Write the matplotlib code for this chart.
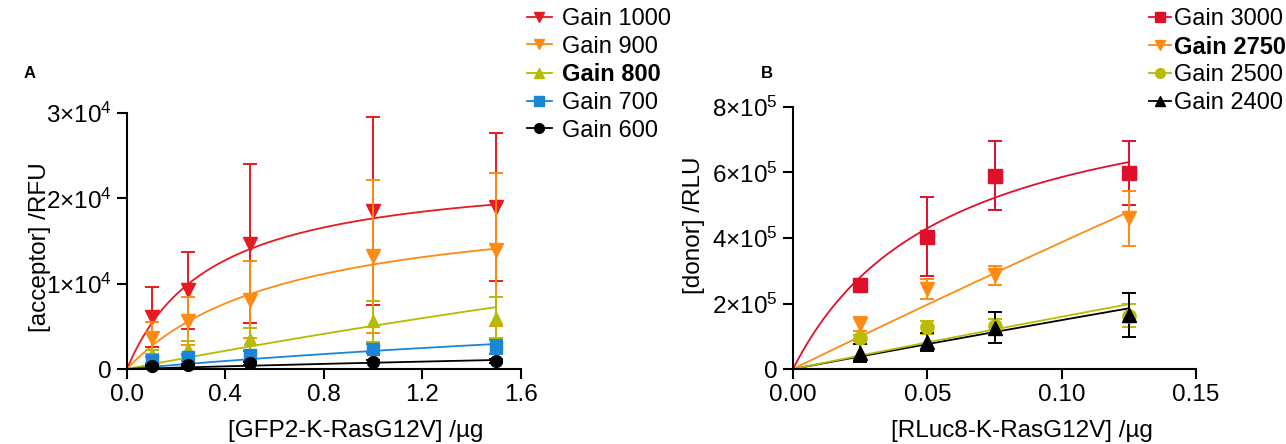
import matplotlib
matplotlib.use("Agg")
import numpy as np
import matplotlib.pyplot as plt
from matplotlib.lines import Line2D
from matplotlib.ticker import FixedLocator, FuncFormatter

plt.rcParams['font.family'] = ['Liberation Sans', 'DejaVu Sans']
plt.rcParams['mathtext.fontset'] = 'custom'
plt.rcParams['mathtext.rm'] = 'Liberation Sans'
plt.rcParams['mathtext.it'] = 'Liberation Sans:italic'
plt.rcParams['mathtext.bf'] = 'Liberation Sans:bold'

# ---- Panel A: acceptor fluorescence vs GFP2-K-RasG12V ----
a_x = [0.1, 0.25, 0.5, 1.0, 1.5]
a_labels = ['Gain 1000', 'Gain 900', 'Gain 800', 'Gain 700', 'Gain 600']
a_mean = [
    [6.1e3, 9.2e3, 14.7e3, 18.5e3, 19.0e3],
    [3.6e3, 5.6e3, 8.1e3, 13.2e3, 14.0e3],
    [1.8e3, 2.4e3, 3.5e3, 5.6e3, 6.0e3],
    [1.05e3, 1.35e3, 1.6e3, 2.4e3, 2.55e3],
    [0.35e3, 0.47e3, 0.65e3, 0.85e3, 0.95e3],
]
a_err = [
    [3.5e3, 4.5e3, 9.3e3, 11.0e3, 8.7e3],
    [1.9e3, 2.8e3, 4.5e3, 9.0e3, 9.0e3],
    [0.4e3, 0.9e3, 1.3e3, 2.4e3, 2.4e3],
    [0.3e3, 0.4e3, 0.5e3, 0.5e3, 0.85e3],
    [0.1e3, 0.1e3, 0.15e3, 0.2e3, 0.2e3],
]
# one-site fit parameters (Bmax, Kd)
a_bmax = [23.7e3, 20.25e3, 55.6e3, 12.7e3, 8.1e3]
a_kd = [0.343, 0.654, 10.0, 5.0, 10.0]
a_colors = ['#e8191f', '#ff8a14', '#b4bb00', '#1a86d6', '#000000']
a_markers = ['v', 'v', '^', 's', 'o']
a_msize = [9.5, 9.5, 9, 8, 8.5]

# ---- Panel B: donor luminescence vs RLuc8-K-RasG12V ----
b_x = [0.025, 0.05, 0.075, 0.125]
b_labels = ['Gain 3000', 'Gain 2750', 'Gain 2500', 'Gain 2400']
b_mean = [
    [2.56e5, 4.04e5, 5.9e5, 5.98e5],
    [1.38e5, 2.44e5, 2.86e5, 4.6e5],
    [0.94e5, 1.27e5, 1.31e5, 1.62e5],
    [0.48e5, 0.83e5, 1.26e5, 1.66e5],
]
b_err = [
    [0.2e5, 1.2e5, 1.05e5, 0.97e5],
    [0.22e5, 0.31e5, 0.3e5, 0.85e5],
    [0.1e5, 0.21e5, 0.23e5, 0.35e5],
    [0.28e5, 0.27e5, 0.48e5, 0.67e5],
]
b_bmax = [9.2e5, 1.2e7, 4.95e6, 4.63e6]
b_kd = [0.057, 3.0, 3.0, 3.0]
b_colors = ['#e0102c', '#ff8a14', '#b9bd00', '#000000']
b_markers = ['s', 'v', 'o', '^']
b_msize = [10, 9.5, 9.5, 9.5]

FS = 17.5


def sci_label(v, exp):
    if v == 0:
        return '0'
    return r'$%d{\times}10^{%d}$' % (round(v / 10 ** exp), exp)


def draw_panel(ax, xs, means, errs, bmax, kd, colors, markers, msizes, xmax, order):
    for i in order:
        ax.errorbar(xs, means[i], yerr=errs[i], fmt=markers[i], color=colors[i],
                    ms=msizes[i], elinewidth=1.4, capsize=5, capthick=1.4,
                    clip_on=False, zorder=3 + i * 0.1)
        # fitted one-site binding curve
        xf = np.linspace(0, xs[-1], 200)
        ax.plot(xf, bmax[i] * xf / (kd[i] + xf), color=colors[i], lw=1.3, zorder=2)
    ax.set_xlim(0, xmax)
    for s in ['top', 'right']:
        ax.spines[s].set_visible(False)
    for s in ['left', 'bottom']:
        ax.spines[s].set_linewidth(1.5)
    ax.tick_params(direction='out', length=7, width=1.5, pad=4, labelsize=FS)


fig = plt.figure(figsize=(12.86, 4.44), dpi=100)

# panel A
axA = fig.add_axes([127 / 1286, 75 / 444, 393.5 / 1286, 256 / 444])
draw_panel(axA, a_x, a_mean, a_err, a_bmax, a_kd, a_colors, a_markers, a_msize, 1.6, range(5))
axA.set_ylim(0, 3e4)
axA.xaxis.set_major_locator(FixedLocator([0, 0.4, 0.8, 1.2, 1.6]))
axA.xaxis.set_major_formatter(FuncFormatter(lambda v, p: '%.1f' % v))
axA.yaxis.set_major_locator(FixedLocator([0, 1e4, 2e4, 3e4]))
axA.yaxis.set_major_formatter(FuncFormatter(lambda v, p: sci_label(v, 4)))
axA.set_xlabel('[GFP2-K-RasG12V] /µg', fontsize=FS, va='center')
axA.set_ylabel('[acceptor] /RFU', fontsize=FS, va='center')
axA.xaxis.set_label_coords(0.582, -0.242)
axA.yaxis.set_label_coords(-0.22, 0.477)

# panel B
axB = fig.add_axes([793 / 1286, 75 / 444, 403 / 1286, 262 / 444])
draw_panel(axB, b_x, b_mean, b_err, b_bmax, b_kd, b_colors, b_markers, b_msize, 0.15, [3, 2, 1, 0])
axB.set_ylim(0, 8e5)
axB.xaxis.set_major_locator(FixedLocator([0, 0.05, 0.10, 0.15]))
axB.xaxis.set_major_formatter(FuncFormatter(lambda v, p: '%.2f' % v))
axB.yaxis.set_major_locator(FixedLocator([0, 2e5, 4e5, 6e5, 8e5]))
axB.yaxis.set_major_formatter(FuncFormatter(lambda v, p: sci_label(v, 5)))
axB.set_xlabel('[RLuc8-K-RasG12V] /µg', fontsize=FS, va='center')
axB.set_ylabel('[donor] /RLU', fontsize=FS, va='center')
axB.xaxis.set_label_coords(0.568, -0.237)
axB.yaxis.set_label_coords(-0.245, 0.55)

# legends
def make_handles(colors, markers):
    return [Line2D([], [], color=c, marker=m, ms=7, lw=1.3) for c, m in zip(colors, markers)]

legA = fig.legend(make_handles(a_colors, a_markers), a_labels, loc='upper left',
                  bbox_to_anchor=(527 / 1286, 1 - 8 / 444), frameon=False, fontsize=17,
                  borderpad=0, borderaxespad=0, handlelength=1.05, handletextpad=0.45,
                  labelspacing=0.24)
legA.get_texts()[2].set_fontweight('bold')

legB = fig.legend(make_handles(b_colors, b_markers), b_labels, loc='upper left',
                  bbox_to_anchor=(1149 / 1286, 1 - 8 / 444), frameon=False, fontsize=17,
                  borderpad=0, borderaxespad=0, handlelength=0.95, handletextpad=0.12,
                  labelspacing=0.24)
legB.get_texts()[1].set_fontweight('bold')

# panel letters
fig.text(30 / 1286, 1 - 74 / 444, 'A', fontsize=12, fontweight='bold', ha='center', va='center')
fig.text(767 / 1286, 1 - 74 / 444, 'B', fontsize=12, fontweight='bold', ha='center', va='center')

fig.savefig('out.png', dpi=100)
